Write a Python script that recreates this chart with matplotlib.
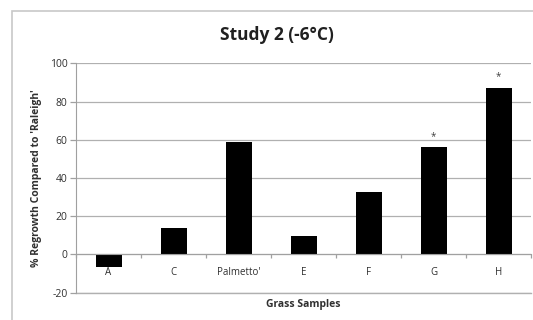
import matplotlib
matplotlib.use("Agg")
import matplotlib.pyplot as plt
from matplotlib.patches import Rectangle
import numpy as np

categories = ["A", "C", "Palmetto'", "E", "F", "G", "H"]
values = [-6.5, 13.7, 58.7, 9.7, 32.9, 56.1, 87.0]
significant = [False, False, False, False, False, True, True]
yticks = [-20, 0, 20, 40, 60, 80, 100]

plt.rcParams['font.family'] = ['Open Sans', 'DejaVu Sans']

W, H = 533, 320
fig = plt.figure(figsize=(W / 100, H / 100), dpi=100)
fig.patch.set_facecolor('white')

# outer chart border (left and top visible)
fig.patches.append(Rectangle((12 / W, -0.1), 1.2, 1 - 11 / H + 0.1,
                             transform=fig.transFigure, fill=False,
                             edgecolor='#c8c8c8', linewidth=1.2))

ax = fig.add_axes([76 / W, 1 - 292.7 / H, (531 - 76) / W, (292.7 - 63.3) / H])
x = np.arange(len(categories))
ax.bar(x, values, width=0.4, color='black', zorder=3)

for xi, v, s in zip(x, values, significant):
    if s:
        ax.annotate('*', (xi, v), xytext=(0, 4), textcoords='offset points',
                    ha='center', va='bottom', fontsize=7, color='#404040')

ax.set_xlim(-0.5, len(categories) - 0.5)
ax.set_ylim(-20, 100)
ax.set_yticks(yticks)
ax.set_yticklabels([str(t) for t in yticks], fontsize=7.5, color='#303030')
ax.yaxis.grid(True, color='#b0b0b0', linewidth=0.9, zorder=0)
ax.axhline(-20, color='#b0b0b0', linewidth=1.0, clip_on=False, zorder=1)
ax.tick_params(axis='y', length=4, color='#a0a0a0', width=0.9, pad=2)

for s in ['top', 'right']:
    ax.spines[s].set_visible(False)
ax.spines['left'].set_color('#a0a0a0')
ax.spines['bottom'].set_position(('data', 0))
ax.spines['bottom'].set_color('#a0a0a0')
ax.spines['bottom'].set_zorder(4)

ax.set_xticks(np.arange(len(categories) + 1) - 0.5)
ax.set_xticklabels([])
ax.tick_params(axis='x', which='major', length=3, color='#a0a0a0', width=0.9)
ax.set_xticks(x, minor=True)
ax.set_xticklabels(categories, minor=True, fontsize=7, color='#303030')
ax.tick_params(axis='x', which='minor', length=0, pad=9)

ax.set_ylabel("% Regrowth Compared to 'Raleigh'", fontsize=7.5,
              fontweight='bold', color='#303030', labelpad=6)
fig.text(303 / W, 1 - 304 / H, "Grass Samples", ha='center', va='center',
         fontsize=7.5, fontweight='bold', color='#303030')
fig.text(277 / W, 1 - 35 / H, "Study 2 (-6°C)", ha='center', va='center',
         fontsize=12.5, fontweight='bold', color='#202020')

fig.savefig('out.png', dpi=100)
